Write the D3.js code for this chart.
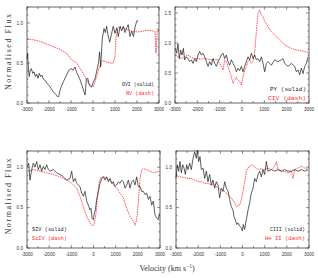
<!DOCTYPE html>
<html>
<head>
<meta charset="utf-8">
<script src="https://cdn.jsdelivr.net/npm/d3@7"></script>
<style>
  html, body { margin: 0; padding: 0; background: #fff; }
  svg { display: block; }
</style>
</head>
<body>
<div id="chart"></div>
<script>
// Velocity (km/s), normalised flux pairs
const ovi = [[-3000,0.55],[-2970,0.62],[-2940,0.45],[-2900,0.33],[-2860,0.40],[-2800,0.43],[-2740,0.37],[-2680,0.39],[-2620,0.33],[-2560,0.36],[-2500,0.31],[-2440,0.37],[-2380,0.33],[-2320,0.35],[-2260,0.30],[-2200,0.29],[-2100,0.25],[-2000,0.22],[-1900,0.18],[-1800,0.14],[-1700,0.11],[-1620,0.08],[-1560,0.08],[-1500,0.16],[-1420,0.22],[-1340,0.27],[-1200,0.35],[-1100,0.41],[-1000,0.43],[-900,0.41],[-820,0.45],[-740,0.38],[-600,0.30],[-500,0.22],[-420,0.15],[-360,0.10],[-300,0.30],[-240,0.31],[-160,0.22],[-60,0.20],[0,0.25],[100,0.31],[170,0.40],[250,0.50],[300,0.64],[350,0.45],[420,0.80],[500,0.93],[560,0.88],[620,0.96],[680,0.85],[760,0.76],[840,0.86],[920,0.96],[1000,0.87],[1080,0.94],[1150,0.83],[1230,0.96],[1300,0.90],[1380,0.96],[1450,0.88],[1530,0.94],[1600,0.98],[1680,0.83],[1760,0.90],[1840,0.83],[1920,0.96],[2000,1.03],[2060,1.02]];
const nv = [[-3000,0.80],[-2712,0.79],[-2409,0.77],[-1955,0.72],[-1500,0.67],[-1197,0.62],[-970,0.54],[-742,0.50],[-591,0.43],[-440,0.37],[-212,0.25],[-61,0.20],[15,0.21],[167,0.33],[318,0.47],[394,0.53],[545,0.52],[773,0.50],[924,0.50],[1000,0.58],[1045,0.81],[1106,0.93],[1227,0.95],[1530,0.92],[1833,0.89],[2136,0.89],[2439,0.91],[2742,0.90],[2818,0.89],[2864,0.62],[2924,0.93],[3000,0.91]];
const py = [[-2985,0.91],[-2925,0.83],[-2866,0.99],[-2806,0.74],[-2746,0.88],[-2686,0.80],[-2627,0.91],[-2567,0.72],[-2492,0.77],[-2418,0.74],[-2343,0.69],[-2268,0.72],[-2194,0.66],[-2119,0.74],[-2045,0.69],[-1970,0.80],[-1895,0.86],[-1820,0.80],[-1746,0.83],[-1671,0.77],[-1597,0.69],[-1522,0.61],[-1447,0.69],[-1373,0.63],[-1298,0.74],[-1223,0.66],[-1149,0.61],[-1074,0.69],[-999,0.74],[-925,0.80],[-850,0.83],[-775,0.74],[-701,0.80],[-626,0.69],[-551,0.63],[-477,0.72],[-402,0.66],[-328,0.61],[-253,0.52],[-178,0.58],[-104,0.54],[-29,0.61],[46,0.52],[120,0.61],[195,0.69],[270,0.77],[344,0.72],[419,0.83],[494,0.74],[568,0.80],[643,0.72],[718,0.74],[792,0.69],[867,0.77],[942,0.66],[1016,0.52],[1091,0.66],[1165,0.69],[1315,0.63],[1464,0.72],[1613,0.69],[1763,0.72],[1837,0.74],[1912,0.66],[2061,0.61],[2211,0.66],[2360,0.61],[2435,0.52],[2509,0.55],[2584,0.47],[2658,0.58],[2733,0.49],[2808,0.61],[2882,0.66],[2957,0.77]];
const civ = [[-2985,0.80],[-2866,0.77],[-2716,0.74],[-2567,0.77],[-2418,0.80],[-2268,0.76],[-2119,0.74],[-1970,0.74],[-1820,0.73],[-1671,0.74],[-1522,0.73],[-1373,0.72],[-1223,0.73],[-1074,0.72],[-999,0.66],[-925,0.61],[-850,0.55],[-775,0.72],[-701,0.69],[-626,0.61],[-551,0.52],[-477,0.44],[-402,0.33],[-328,0.38],[-253,0.43],[-178,0.38],[-104,0.36],[-29,0.30],[46,0.44],[120,0.55],[195,0.61],[270,0.69],[344,0.72],[419,0.66],[494,0.69],[568,0.83],[613,1.05],[658,1.27],[718,1.49],[792,1.55],[867,1.47],[942,1.44],[1016,1.36],[1165,1.27],[1315,1.19],[1464,1.13],[1613,1.08],[1763,1.02],[1912,0.97],[2061,0.94],[2211,0.91],[2360,0.89],[2509,0.88],[2658,0.87],[2808,0.86],[2957,0.84]];
const siv = [[-2985,1.01],[-2925,1.05],[-2865,0.84],[-2789,0.97],[-2714,1.05],[-2639,1.00],[-2564,1.07],[-2489,0.97],[-2413,1.03],[-2338,0.95],[-2263,1.01],[-2188,0.97],[-2113,1.03],[-2037,0.97],[-1962,0.95],[-1812,0.97],[-1661,0.93],[-1511,0.91],[-1361,0.88],[-1210,0.84],[-1060,0.86],[-985,0.95],[-909,0.82],[-834,0.86],[-759,0.80],[-609,0.76],[-533,0.68],[-458,0.64],[-383,0.70],[-308,0.58],[-233,0.53],[-157,0.47],[-112,0.49],[-67,0.37],[-7,0.35],[38,0.43],[83,0.47],[143,0.60],[219,0.70],[294,0.80],[369,0.86],[444,0.88],[519,0.84],[595,0.88],[670,0.82],[745,0.86],[820,0.80],[895,0.82],[971,0.76],[1046,0.78],[1121,0.82],[1196,0.80],[1271,0.84],[1347,0.82],[1422,0.74],[1497,0.78],[1572,0.84],[1647,0.74],[1723,0.82],[1798,0.84],[1873,0.78],[1948,0.88],[2023,0.76],[2099,0.76],[2174,0.70],[2249,0.70],[2324,0.66],[2399,0.68],[2475,0.60],[2550,0.64],[2625,0.53],[2700,0.58],[2775,0.41],[2851,0.37],[2926,0.35],[2971,0.43]];
const siiv = [[-2985,0.95],[-2714,0.97],[-2413,0.95],[-2113,0.93],[-1812,0.91],[-1511,0.88],[-1210,0.84],[-985,0.80],[-759,0.74],[-609,0.64],[-458,0.51],[-308,0.39],[-157,0.31],[-37,0.27],[38,0.31],[113,0.43],[173,0.62],[249,0.80],[324,0.87],[444,0.88],[595,0.86],[745,0.84],[895,0.78],[1046,0.74],[1196,0.68],[1347,0.62],[1497,0.49],[1647,0.39],[1798,0.33],[1873,0.28],[1948,0.35],[2023,0.56],[2099,0.86],[2174,0.97],[2249,0.98],[2399,0.97],[2550,0.95],[2700,0.93],[2851,0.94],[2971,0.95]];
const ciii = [[-3000,0.86],[-2940,1.03],[-2880,0.95],[-2820,1.07],[-2759,0.93],[-2699,1.03],[-2639,0.99],[-2579,0.91],[-2519,1.03],[-2459,0.97],[-2383,1.05],[-2308,0.97],[-2233,1.11],[-2158,1.19],[-2083,1.11],[-2037,1.21],[-1977,1.07],[-1917,1.13],[-1857,0.97],[-1782,0.99],[-1707,0.86],[-1631,0.95],[-1556,0.82],[-1481,0.91],[-1406,0.78],[-1331,0.84],[-1255,0.74],[-1180,0.82],[-1105,0.78],[-1030,0.62],[-955,0.74],[-879,0.70],[-804,0.82],[-729,0.74],[-654,0.70],[-579,0.60],[-503,0.51],[-428,0.47],[-383,0.39],[-323,0.35],[-263,0.29],[-203,0.31],[-127,0.27],[-52,0.25],[-7,0.21],[38,0.29],[98,0.23],[143,0.31],[188,0.37],[249,0.47],[324,0.56],[399,0.68],[474,0.74],[549,0.86],[625,0.82],[700,0.91],[775,0.95],[850,0.88],[925,0.97],[1000,0.91],[1076,1.07],[1151,0.95],[1301,0.97],[1452,0.95],[1602,0.97],[1752,0.95],[1903,0.97],[2053,0.95],[2204,0.95],[2354,0.97],[2504,0.95],[2655,0.97],[2805,0.95],[2956,0.97]];
const heii = [[-3000,0.91],[-2910,0.88],[-2759,0.88],[-2609,0.87],[-2459,0.86],[-2308,0.86],[-2158,0.84],[-2007,0.82],[-1857,0.82],[-1707,0.80],[-1556,0.80],[-1406,0.78],[-1255,0.78],[-1105,0.74],[-955,0.72],[-804,0.70],[-654,0.66],[-503,0.62],[-353,0.56],[-277,0.51],[-203,0.53],[-127,0.53],[-52,0.60],[23,0.70],[98,0.82],[173,0.95],[249,0.99],[324,1.01],[399,1.03],[549,1.00],[700,0.97],[850,0.98],[1000,0.97],[1151,0.99],[1301,0.97],[1452,1.01],[1527,1.07],[1602,0.97],[1752,0.95],[1903,0.95],[2053,0.93],[2204,0.95],[2279,0.86],[2354,0.97],[2504,0.99],[2655,1.01],[2805,0.99],[2956,0.97]];

const xTicks = d3.range(-3000, 3001, 500);
const xLabels = [-3000, -2000, -1000, 0, 1000, 2000, 3000];

// panel layout
const panels = [
  { solid: ovi, dash: nv, names: ['OVI (solid)', 'NV (dash)'], ymax: 1.2, yLabels: [0, 0.5, 1.0],
    box: [27, 159, 7, 103], leg: { x: 154, y: 86, anchor: 'end', w: [32, 28] }, title: true },
  { solid: py, dash: civ, names: ['PY (solid)', 'CIV (dash)'], ymax: 1.6, yLabels: [0, 0.5, 1.0, 1.5],
    box: [175, 309, 7, 103], leg: { x: 306, y: 91, anchor: 'end', w: [36, 38] } },
  { solid: siv, dash: siiv, names: ['SIV (solid)', 'SiIV (dash)'], ymax: 1.2, yLabels: [0, 0.5, 1.0],
    box: [27, 160, 151, 248], leg: { x: 32, y: 231, anchor: 'start', w: [35, 35] }, title: true },
  { solid: ciii, dash: heii, names: ['CIII (solid)', 'He II (dash)'], ymax: 1.2, yLabels: [0, 0.5, 1.0],
    box: [176, 309, 151, 248], leg: { x: 305, y: 231, anchor: 'end', w: [35, 40] } }
];

const svg = d3.select('#chart').append('svg')
  .attr('width', 318)
  .attr('height', 278);

const fmt = d3.format('.1f');

panels.forEach(p => {
  const [x0, x1, y0, y1] = p.box;
  const x = d3.scaleLinear().domain([-3000, 3000]).range([x0, x1]);
  const y = d3.scaleLinear().domain([0, p.ymax]).range([y1, y0]);
  const g = svg.append('g');

  const line = d3.line().x(d => x(d[0])).y(d => y(d[1]));

  g.append('path').datum(p.dash)
    .attr('fill', 'none').attr('stroke', '#ff2a2a')
    .attr('stroke-width', 0.8).attr('stroke-dasharray', '1.6,0.8')
    .attr('d', line);
  g.append('path').datum(p.solid)
    .attr('fill', 'none').attr('stroke', '#1a1a1a')
    .attr('stroke-width', 0.7)
    .attr('d', line);

  // frame
  g.append('rect')
    .attr('x', x0).attr('y', y0).attr('width', x1 - x0).attr('height', y1 - y0)
    .attr('fill', 'none').attr('stroke', '#222').attr('stroke-width', 0.7);

  const yMinor = d3.range(0, p.ymax + 1e-6, 0.1);
  const tickG = g.append('g').attr('stroke', '#222').attr('stroke-width', 0.5);
  xTicks.forEach(v => {
    const len = xLabels.includes(v) ? 3 : 2;
    tickG.append('line').attr('x1', x(v)).attr('x2', x(v)).attr('y1', y1).attr('y2', y1 - len);
    tickG.append('line').attr('x1', x(v)).attr('x2', x(v)).attr('y1', y0).attr('y2', y0 + len);
  });
  yMinor.forEach(v => {
    const len = Math.abs(v * 2 - Math.round(v * 2)) < 1e-6 ? 3 : 1.5;
    tickG.append('line').attr('x1', x0).attr('x2', x0 + len).attr('y1', y(v)).attr('y2', y(v));
    tickG.append('line').attr('x1', x1).attr('x2', x1 - len).attr('y1', y(v)).attr('y2', y(v));
  });

  g.append('g').selectAll('text').data(xLabels).join('text')
    .attr('x', d => x(d)).attr('y', y1 + 7.5)
    .attr('text-anchor', 'middle')
    .attr('font-family', 'Liberation Sans, Arial, sans-serif')
    .attr('font-size', 4.6).attr('fill', '#333')
    .text(d => d);

  g.append('g').selectAll('text').data(p.yLabels).join('text')
    .attr('x', x0 - 4).attr('y', d => y(d) + 1.6)
    .attr('text-anchor', 'end')
    .attr('font-family', 'Liberation Sans, Arial, sans-serif')
    .attr('font-size', 4.6).attr('fill', '#333')
    .text(d => fmt(d));

  p.names.forEach((name, i) => {
    g.append('text')
      .attr('x', p.leg.x).attr('y', p.leg.y + i * 9)
      .attr('text-anchor', p.leg.anchor)
      .attr('font-family', 'Liberation Mono, DejaVu Sans Mono, monospace')
      .attr('font-size', 5.8)
      .attr('fill', i === 0 ? '#222' : '#ff2a2a')
      .attr('textLength', p.leg.w[i]).attr('lengthAdjust', 'spacingAndGlyphs')
      .text(name);
  });

  if (p.title) {
    const cy = (y0 + y1) / 2 - 3;
    g.append('text')
      .attr('transform', `translate(11,${cy}) rotate(-90)`)
      .attr('text-anchor', 'middle')
      .attr('font-family', 'Liberation Serif, Times New Roman, serif')
      .attr('font-size', 8).attr('fill', '#333')
      .attr('textLength', 76).attr('lengthAdjust', 'spacing')
      .text('Normalised Flux');
  }
});

const vt = svg.append('text')
  .attr('x', 167).attr('y', 271)
  .attr('text-anchor', 'middle')
  .attr('font-family', 'Liberation Serif, Times New Roman, serif')
  .attr('font-size', 8).attr('fill', '#333');
vt.append('tspan').text('Velocity (km s');
vt.append('tspan').attr('dy', -3).attr('font-size', 5.5).text('\u22121');
vt.append('tspan').attr('dy', 3).text(')');
</script>
</body>
</html>
